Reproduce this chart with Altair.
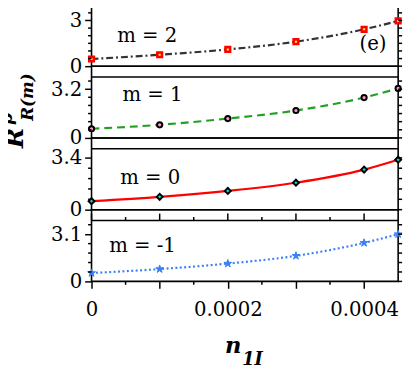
import altair as alt
import pandas as pd

# ---- data ----
x_n = [0.0, 0.0001, 0.0002, 0.0003, 0.0004, 0.00045]
r_m2 = [0.47, 0.75, 1.10, 1.61, 2.42, 2.97]
r_m1 = [0.60, 0.86, 1.27, 1.80, 2.65, 3.25]
r_m0 = [0.56, 0.84, 1.23, 1.77, 2.63, 3.28]
r_mm1 = [0.55, 0.81, 1.17, 1.68, 2.53, 3.10]

panel_labels = ["m = 2", "m = 1", "m = 0", "m = -1"]
y_major = [3, 3.2, 3.4, 3.1]
y_minor = [
    [0.5, 1.0, 1.5, 2.0, 2.5, 3.5, 4.0],
    [0.533, 1.067, 1.6, 2.133, 2.667, 3.733],
    [0.68, 1.36, 2.04, 2.72],
    [0.62, 1.24, 1.86, 2.48, 3.72],
]
x_major = [0.0, 0.0001, 0.0002, 0.0003, 0.0004]
x_minor = [0.00005, 0.00015, 0.00025, 0.00035]

FONT = "DejaVu Serif"
W = 312
PX = 15.5
heights = [66, 73, 73, 73]

styles = [
    dict(line=dict(color="#333333", strokeDash=[7, 3, 2, 3]),
         pt=dict(shape="square", fill="#FFFF00", stroke="#FF0000", strokeWidth=2.6, size=22)),
    dict(line=dict(color="#22A022", strokeDash=[8, 5]),
         pt=dict(shape="circle", fill="#FF99CC", stroke="black", strokeWidth=2.0, size=28)),
    dict(line=dict(color="#FF0000"),
         pt=dict(shape="diamond", fill="#00E0E0", stroke="black", strokeWidth=2.0, size=36)),
    dict(line=dict(color="#3A80F5", strokeDash=[2, 2.5]),
         pt=dict(shape="M0,-1L0.2245,-0.309L0.951,-0.309L0.363,0.118L0.588,0.809L0,0.382L-0.588,0.809L-0.363,0.118L-0.951,-0.309L-0.2245,-0.309Z",
                 fill="#3A80F5", stroke="#3A80F5", strokeWidth=1, size=70)),
]
label_pos = [(0.0000818, 2.0), (0.0000894, 2.82), (0.0000862, 2.09), (0.0000748, 2.3)]
series = [r_m2, r_m1, r_m0, r_mm1]

xs = alt.Scale(domain=[0, 0.00045], nice=False, zero=False)
XLABEL = "datum.value == 0 ? '0' : (round(datum.value*10000) % 2 == 0 ? format(datum.value, '.4f') : '')"
YLABEL = "datum.value == 0 ? '0' : '' + datum.value"


def panel(i):
    h = heights[i]
    ys = alt.Scale(domain=[0, h / PX], nice=False, zero=False)
    df = pd.DataFrame({"x": x_n, "y": series[i]})
    K = y_major[i]
    yax = alt.Axis(values=[0, K], labelExpr=YLABEL, tickSize=7, tickWidth=1.5, tickColor="black",
                   domain=False, grid=False, title=None, labelFont=FONT, labelFontSize=20,
                   labelColor="black", labelPadding=3)
    if i == 3:
        xax = alt.Axis(values=x_major, tickSize=7, tickWidth=1.5, tickColor="black", domain=False,
                       grid=False, title=None, labelFont=FONT, labelFontSize=20, labelColor="black",
                       labelPadding=12, labelFlush=False, labelExpr=XLABEL)
    else:
        xax = None

    def X(f):
        return alt.X(f, scale=xs, axis=xax)

    def Y(f):
        return alt.Y(f, scale=ys, axis=yax)

    st = styles[i]
    line = alt.Chart(df).mark_line(interpolate="monotone", strokeWidth=2.2, **st["line"]).encode(
        x=X("x:Q"), y=Y("y:Q"))
    pts = alt.Chart(df).mark_point(opacity=1, fillOpacity=1, strokeOpacity=1, **st["pt"]).encode(
        x=X("x:Q"), y=Y("y:Q"))
    mdf = pd.DataFrame({"v": y_minor[i]})
    left_minor = alt.Chart(mdf).mark_rule(color="black", strokeWidth=1.5).encode(
        y=Y("v:Q"), x=alt.value(0), x2=alt.value(-3.5))
    rdf = pd.DataFrame({"v": y_minor[i] + [0, K]})
    right_ticks = alt.Chart(rdf).mark_rule(color="black", strokeWidth=1.5).encode(
        y=Y("v:Q"), x=alt.value(W), x2=alt.value(W + 4))
    lx, ly = label_pos[i]
    lab = alt.Chart(pd.DataFrame({"t": [panel_labels[i]]})).mark_text(
        font=FONT, fontSize=20, color="black").encode(
        x=alt.XDatum(lx, scale=xs, axis=xax), y=alt.YDatum(ly, scale=ys, axis=yax), text="t:N")
    layers = [line, pts, left_minor, right_ticks, lab]
    if i > 0:
        layers.append(alt.Chart(pd.DataFrame({"v": [4]})).mark_rule(color="black", strokeWidth=1.6).encode(
            y=Y("v:Q")))
    if i == 0:
        layers.append(alt.Chart(pd.DataFrame({"t": ["(e)"]})).mark_text(
            font=FONT, fontSize=20, color="black").encode(
            x=alt.XDatum(0.000413, scale=xs, axis=xax), y=alt.YDatum(1.42, scale=ys, axis=yax), text="t:N"))
    if i == 1:
        for txt, px_, py_, fs in [("R", -77.5, 73, 25), ("p", -85.5, 53.5, 18), ("R(m)", -64.3, 31.5, 17)]:
            layers.append(alt.Chart(pd.DataFrame({"t": [txt]})).mark_text(
                font=FONT, fontSize=fs, fontStyle="italic", fontWeight="bold", angle=270,
                color="black").encode(x=alt.value(px_), y=alt.value(py_), text="t:N"))
    if i == 3:
        tx = pd.DataFrame({"x": x_major, "v0": [0] * 5, "v4": [4] * 5})
        tn = pd.DataFrame({"x": x_minor, "v0": [0] * 4, "v4": [4] * 4})
        layers.append(alt.Chart(tx).mark_rule(color="black", strokeWidth=1.5, y2Offset=-7).encode(
            x=X("x:Q"), y=Y("v4:Q"), y2="v4:Q"))
        layers.append(alt.Chart(tn).mark_rule(color="black", strokeWidth=1.5, y2Offset=-3.5).encode(
            x=X("x:Q"), y=Y("v4:Q"), y2="v4:Q"))
        layers.append(alt.Chart(tn).mark_rule(color="black", strokeWidth=1.5, y2Offset=3.5).encode(
            x=X("x:Q"), y=Y("v0:Q"), y2="v0:Q"))
        layers.append(alt.Chart(pd.DataFrame({"t": ["n"]})).mark_text(
            font=FONT, fontSize=23, fontStyle="italic", fontWeight="bold", color="black").encode(
            x=alt.value(144.2), y=alt.value(139), text="t:N"))
        layers.append(alt.Chart(pd.DataFrame({"t": ["1I"]})).mark_text(
            font=FONT, fontSize=18, fontStyle="italic", fontWeight="bold", color="black").encode(
            x=alt.value(163.7), y=alt.value(153), text="t:N"))
    return alt.layer(*layers).properties(width=W, height=h)


chart = alt.vconcat(*[panel(i) for i in range(4)], spacing=0, bounds="flush").properties(
    padding={"left": -11, "top": -11, "right": 0, "bottom": 0},
    background="white",
).configure_view(stroke="black", strokeWidth=1.6)

chart.save("out.html", embed_options={"renderer": "svg", "actions": False})
